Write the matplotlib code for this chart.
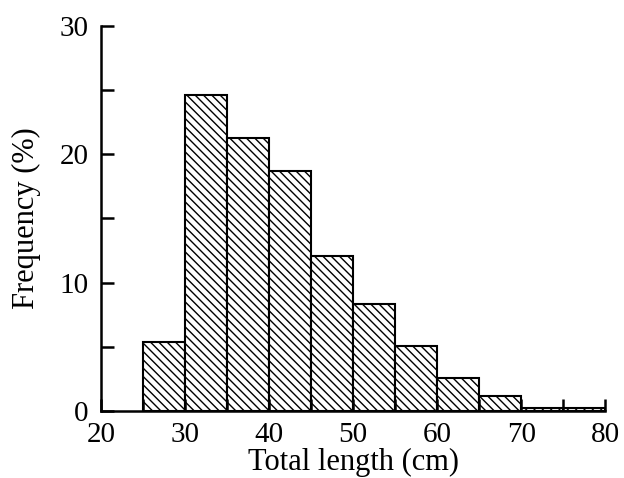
import matplotlib.pyplot as plt
from matplotlib.ticker import MultipleLocator

# clases de longitud (cm) y frecuencia (%)
bin_left = [25, 30, 35, 40, 45, 50, 55, 60, 65, 70, 75]
frecuencia = [5.4, 24.6, 21.3, 18.7, 12.1, 8.3, 5.1, 2.6, 1.2, 0.25, 0.25]
ancho = 5

plt.rcParams['font.family'] = ['Liberation Serif', 'DejaVu Serif']
plt.rcParams['hatch.linewidth'] = 1.0

fig = plt.figure(figsize=(6.24, 4.78), dpi=100)
ax = fig.add_axes([0.162, 0.140, 0.808, 0.806])

ax.bar(bin_left, frecuencia, width=ancho, align='edge', color='white',
       edgecolor='black', linewidth=1.5, hatch='\\\\\\\\')

ax.set_xlim(20, 80)
ax.set_ylim(0, 30)
ax.xaxis.set_major_locator(MultipleLocator(10))
ax.xaxis.set_minor_locator(MultipleLocator(5))
ax.yaxis.set_major_locator(MultipleLocator(10))
ax.yaxis.set_minor_locator(MultipleLocator(5))

ax.spines['top'].set_visible(False)
ax.spines['right'].set_visible(False)
ax.spines['left'].set_linewidth(1.8)
ax.spines['bottom'].set_linewidth(1.8)

ax.tick_params(which='both', direction='in', width=1.8, labelsize=21)
ax.tick_params(which='major', length=9)
ax.tick_params(which='minor', length=9)
ax.tick_params(axis='x', pad=8)
ax.tick_params(axis='y', pad=9)

ax.set_xlabel('Total length (cm)', fontsize=22, labelpad=0)
ax.set_ylabel('Frequency (%)', fontsize=22, labelpad=13)

fig.savefig('out.png', dpi=100)
